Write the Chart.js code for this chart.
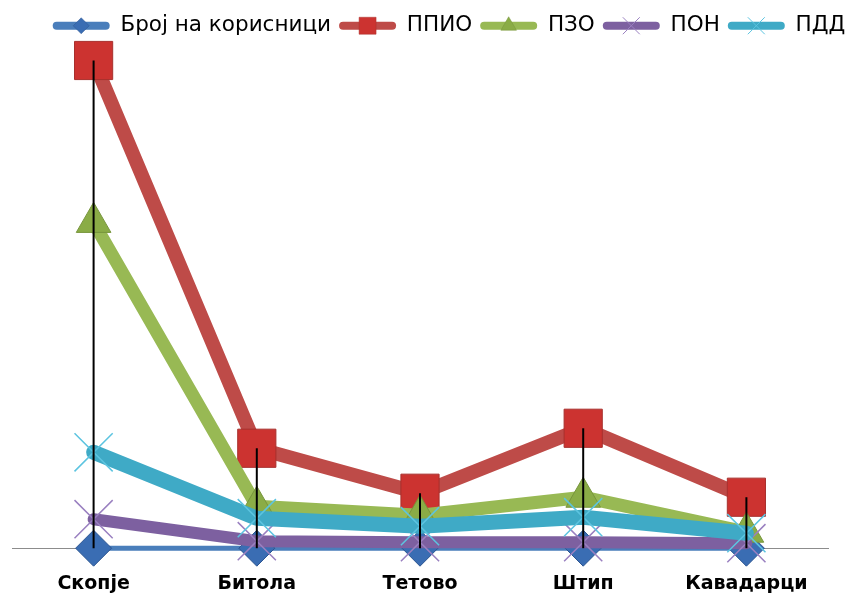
<!DOCTYPE html>
<html>
<head>
<meta charset="utf-8">
<script src="https://cdn.jsdelivr.net/npm/chart.js@4.4.1/dist/chart.umd.min.js"></script>
<style>
  html, body { margin: 0; padding: 0; background: #fff; }
  #wrap { width: 858px; height: 596px; }
</style>
</head>
<body>
<div id="wrap"><canvas id="lineChart" width="858" height="596"></canvas></div>
<script>
// податоци по град
const gradovi = ['Скопје', 'Битола', 'Тетово', 'Штип', 'Кавадарци'];
const brojKorisnici = [0, 0, 0, 0, 0];
const ppio = [488, 100, 55, 120, 51];
const pzo = [326, 42, 33, 51, 16];
const pon = [29, 7, 6, 6, 5];
const pdd = [96, 30, 22, 31, 15];

// вертикални линии од највисоката точка до оската
const dropLines = {
    id: 'dropLines',
    afterDatasetsDraw(chart) {
        const ctx = chart.ctx;
        const x = chart.scales.x, y = chart.scales.y;
        ctx.save();
        ctx.strokeStyle = '#000';
        ctx.lineWidth = 2;
        gradovi.forEach((g, i) => {
            const top = Math.max(brojKorisnici[i], ppio[i], pzo[i], pon[i], pdd[i]);
            const px = x.getPixelForValue(i);
            ctx.beginPath();
            ctx.moveTo(px, y.getPixelForValue(top));
            ctx.lineTo(px, y.getPixelForValue(0));
            ctx.stroke();
        });
        ctx.restore();
    }
};

// легендата малку надесно, како во оригиналот
const legendShift = {
    id: 'legendShift',
    afterLayout(chart) {
        chart.legend.left += 29;
        chart.legend.right += 29;
    }
};

// маркер врз линијата во легендата
const legendMarkers = {
    id: 'legendMarkers',
    afterDraw(chart) {
        const legend = chart.legend;
        if (!legend || !legend.legendHitBoxes) return;
        const ctx = chart.ctx;
        const boxW = legend.options.labels.boxWidth;
        legend.legendItems.forEach((item, i) => {
            const hb = legend.legendHitBoxes[i];
            const ds = chart.data.datasets[item.datasetIndex];
            const cx = hb.left + boxW / 2;
            const cy = hb.top + hb.height / 2;
            const bw = ds.pointStyle.startsWith('cross') ? 1 : 0.5;
            ctx.save();
            ctx.fillStyle = ds.pointBackgroundColor;
            ctx.strokeStyle = ds.pointBorderColor;
            ctx.lineWidth = bw;
            Chart.helpers.drawPoint(ctx, { pointStyle: ds.pointStyle, rotation: 0, borderWidth: bw, radius: ds.legendRadius }, cx, cy);
            ctx.restore();
        });
    }
};

const ctx = document.getElementById('lineChart').getContext('2d');
const lineChart = new Chart(ctx, {
    type: 'line',
    data: {
        labels: gradovi,
        datasets: [
            {
                label: 'Број на корисници', data: brojKorisnici, order: 5,
                borderColor: '#4a7ebb', borderWidth: 5,
                pointStyle: 'rectRot', pointRadius: 18, legendRadius: 8,
                pointBackgroundColor: '#3a6db3', pointBorderColor: '#2c5591', pointBorderWidth: 1
            },
            {
                label: 'ППИО', data: ppio, order: 4,
                borderColor: '#be4b48', borderWidth: 14,
                pointStyle: 'rect', pointRadius: 27, legendRadius: 12,
                pointBackgroundColor: '#cc3330', pointBorderColor: '#a8302d', pointBorderWidth: 1
            },
            {
                label: 'ПЗО', data: pzo, order: 3,
                borderColor: '#98b954', borderWidth: 13,
                pointStyle: 'triangle', pointRadius: 20, legendRadius: 9,
                pointBackgroundColor: '#8aac46', pointBorderColor: '#77953c', pointBorderWidth: 1
            },
            {
                label: 'ПОН', data: pon, order: 2,
                borderColor: '#7d60a0', borderWidth: 12,
                pointStyle: 'crossRot', pointRadius: 27, legendRadius: 12,
                pointBackgroundColor: '#9a80c0', pointBorderColor: '#9a80c0', pointBorderWidth: 1.5
            },
            {
                label: 'ПДД', data: pdd, order: 1,
                borderColor: '#3faac6', borderWidth: 15,
                pointStyle: 'crossRot', pointRadius: 27, legendRadius: 12,
                pointBackgroundColor: '#5cc4e0', pointBorderColor: '#5cc4e0', pointBorderWidth: 1.5
            }
        ]
    },
    options: {
        responsive: false,
        animation: false,
        datasets: {
            line: { clip: false, borderJoinStyle: 'round', borderCapStyle: 'round' }
        },
        layout: { autoPadding: false, padding: { left: 12, right: 30, top: 7, bottom: -23 } },
        plugins: {
            legend: {
                position: 'top',
                labels: {
                    sort: (a, b) => a.datasetIndex - b.datasetIndex,
                    generateLabels: (chart) => {
                        const items = Chart.defaults.plugins.legend.labels.generateLabels(chart);
                        return items.map(it => {
                            const ds = chart.data.datasets[it.datasetIndex];
                            return Object.assign(it, { fillStyle: ds.borderColor, strokeStyle: ds.borderColor, lineWidth: 0, borderRadius: 4 });
                        });
                    },
                    useBorderRadius: true,
                    color: '#000',
                    font: { family: 'DejaVu Sans', size: 21.5 },
                    boxWidth: 57,
                    boxHeight: 8,
                    padding: 8
                }
            },
            tooltip: { enabled: false }
        },
        scales: {
            x: {
                offset: true,
                grid: { display: false, drawTicks: false },
                border: { display: true, color: '#8c8c8c', width: 1 },
                ticks: {
                    color: '#000',
                    font: { family: 'DejaVu Sans', size: 19, weight: 'bold' },
                    padding: 24,
                    maxRotation: 0
                }
            },
            y: {
                display: false,
                min: 0,
                max: 502
            }
        }
    },
    plugins: [dropLines, legendShift, legendMarkers]
});
</script>
</body>
</html>
